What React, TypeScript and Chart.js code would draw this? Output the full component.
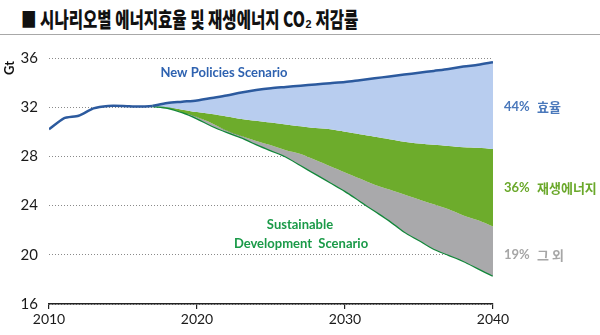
import React, { useEffect, useRef } from "react";
import { Chart, registerables } from "chart.js";

Chart.register(...registerables);

const histYears = [2010, 2011, 2012, 2013, 2014, 2015, 2016, 2017];
const histValues = [30.2, 31.1, 31.3, 31.9, 32.1, 32.1, 32.05, 32.1];

const projYears = [
  2017, 2018, 2019, 2020, 2021, 2022, 2023, 2024, 2025, 2026, 2027, 2028,
  2029, 2030, 2031, 2032, 2033, 2034, 2035, 2036, 2037, 2038, 2039, 2040,
];
const npsValues = [
  32.1, 32.35, 32.45, 32.55, 32.75, 32.95, 33.2, 33.4, 33.55, 33.65, 33.75, 33.85,
  33.95, 34.05, 34.2, 34.35, 34.5, 34.65, 34.8, 34.95, 35.1, 35.3, 35.45, 35.65,
];
const efficiencyFloor = [
  32.1, 32.0, 31.8, 31.6, 31.45, 31.25, 31.05, 30.9, 30.75, 30.6, 30.45, 30.3,
  30.2, 30.0, 29.8, 29.6, 29.4, 29.2, 29.05, 28.95, 28.85, 28.75, 28.7, 28.6,
];
const renewablesFloor = [
  32.1, 31.95, 31.6, 31.2, 30.7, 30.1, 29.65, 29.25, 28.9, 28.5, 28.2, 27.7,
  27.2, 26.7, 26.2, 25.7, 25.3, 24.9, 24.5, 24.1, 23.7, 23.2, 22.8, 22.3,
];
const sdsValues = [
  32.1, 31.95, 31.6, 31.1, 30.5, 30.0, 29.55, 29.0, 28.5, 28.0, 27.3, 26.6,
  25.9, 25.2, 24.4, 23.6, 22.8, 21.9, 21.2, 20.5, 20.0, 19.5, 18.9, 18.3,
];

const xTicks = [2010, 2020, 2030, 2040];
const yTicks = [16, 20, 24, 28, 32, 36];

const titleText = "■ 시나리오별 에너지효율 및 재생에너지 CO₂ 저감률";
const unitLabel = "Gt";
const npsLabel = "New Policies Scenario";
const sdsLabelLines = ["Sustainable", "Development  Scenario"];
const sharePercents = ["44%", "36%", "19%"];
const shareNames = ["효율", "재생에너지", "그 외"];

const BLUE_LINE = "#2c5a9e";
const LIGHT_BLUE = "#b8cdef";
const GREEN_FILL = "#6dac2c";
const GRAY_FILL = "#a9a9ab";
const SDS_LINE = "#12873a";

const toPoints = (xs: number[], ys: number[]) => xs.map((x, i) => ({ x, y: ys[i] }));

const labelsPlugin = {
  id: "labels",
  afterDraw(chart: any) {
    const ctx = chart.ctx as CanvasRenderingContext2D;
    ctx.save();
    ctx.textBaseline = "middle";

    // unit label
    ctx.save();
    ctx.translate(10, 68);
    ctx.rotate(-Math.PI / 2);
    ctx.textAlign = "center";
    ctx.fillStyle = "#111";
    ctx.font = "bold 13px Lato, 'Open Sans', sans-serif";
    ctx.fillText(unitLabel, 0, 0);
    ctx.restore();

    // scenario labels
    ctx.textAlign = "center";
    ctx.font = "bold 13px Lato, 'Open Sans', sans-serif";
    ctx.fillStyle = "#2e62b0";
    ctx.fillText(npsLabel, 224, 73);
    ctx.fillStyle = "#1a9a48";
    ctx.fillText(sdsLabelLines[0], 300, 225);
    ctx.fillText(sdsLabelLines[1], 301, 244);

    // share labels
    const colors = ["#4a78bb", "#6aa82a", "#a6a6a6"];
    const ys = [107, 188, 255];
    ctx.textAlign = "left";
    for (let i = 0; i < 3; i++) {
      ctx.fillStyle = colors[i];
      ctx.font = "bold 13px Lato, 'Open Sans', sans-serif";
      ctx.fillText(sharePercents[i], 504, ys[i]);
      ctx.font = "bold 13px 'Noto Sans CJK KR', sans-serif";
      ctx.fillText(shareNames[i], 537, ys[i]);
    }
    ctx.restore();
  },
};

export default function App() {
  const canvasRef = useRef<HTMLCanvasElement | null>(null);

  useEffect(() => {
    const canvas = canvasRef.current;
    if (!canvas) return;
    const chart = new Chart(canvas, {
      type: "line",
      data: {
        datasets: [
          {
            label: "New Policies",
            data: toPoints(projYears, npsValues),
            borderColor: BLUE_LINE,
            borderWidth: 2.5,
            backgroundColor: LIGHT_BLUE,
            fill: "+1",
            pointRadius: 0,
            tension: 0.3,
          },
          {
            label: "Efficiency",
            data: toPoints(projYears, efficiencyFloor),
            borderColor: "rgba(0,0,0,0)",
            borderWidth: 0,
            backgroundColor: GREEN_FILL,
            fill: "+1",
            pointRadius: 0,
            tension: 0.3,
          },
          {
            label: "Renewables",
            data: toPoints(projYears, renewablesFloor),
            borderColor: "rgba(0,0,0,0)",
            borderWidth: 0,
            backgroundColor: GRAY_FILL,
            fill: "+1",
            pointRadius: 0,
            tension: 0.3,
          },
          {
            label: "Sustainable Development",
            data: toPoints(projYears, sdsValues),
            borderColor: SDS_LINE,
            borderWidth: 2.5,
            fill: false,
            pointRadius: 0,
            tension: 0.3,
          },
          {
            label: "History",
            data: toPoints(histYears, histValues),
            borderColor: BLUE_LINE,
            borderWidth: 2.5,
            fill: false,
            pointRadius: 0,
            tension: 0.2,
          },
        ],
      },
      options: {
        animation: false,
        responsive: false,
        maintainAspectRatio: false,
        layout: { padding: { left: 0, top: 58, right: 107, bottom: 0 } },
        plugins: {
          legend: { display: false },
          tooltip: { enabled: false },
        },
        scales: {
          x: {
            type: "linear",
            min: 2010,
            max: 2040,
            afterBuildTicks: (s: any) => {
              s.ticks = xTicks.map((v) => ({ value: v }));
            },
            afterFit: (s: any) => {
              s.height = 31;
            },
            ticks: {
              callback: (v: any) => String(v),
              color: "#1a1a1a",
              font: { family: "Lato, 'Open Sans', sans-serif", size: 14 },
              padding: 2,
              maxRotation: 0,
              autoSkip: false,
            },
            grid: {
              drawOnChartArea: false,
              drawTicks: true,
              tickLength: 5,
              color: "#222",
              lineWidth: 1.2,
            },
            border: { display: true, color: "#222", width: 1.5 },
          },
          y: {
            min: 16,
            max: 36,
            afterBuildTicks: (s: any) => {
              s.ticks = yTicks.map((v) => ({ value: v }));
            },
            afterFit: (s: any) => {
              s.width = 49;
            },
            ticks: {
              color: "#1a1a1a",
              font: { family: "Lato, 'Open Sans', sans-serif", size: 15 },
              padding: 11,
            },
            grid: { color: "#8a8a8a", lineWidth: 1, drawTicks: false },
            border: { display: false, dash: [1, 2] },
          },
        },
      },
      plugins: [labelsPlugin],
    });
    return () => chart.destroy();
  }, []);

  return (
    <div
      style={{
        position: "fixed",
        left: 0,
        top: 0,
        width: 600,
        height: 335,
        background: "#fff",
        overflow: "hidden",
      }}
    >
      <div
        style={{
          position: "absolute",
          left: 21,
          top: 4,
          whiteSpace: "nowrap",
          fontFamily: "'Noto Sans CJK KR', sans-serif",
          fontWeight: 900,
          fontSize: 21,
          lineHeight: "28px",
          color: "#111",
          transform: "scaleX(0.74)",
          transformOrigin: "left center",
        }}
      >
        {titleText}
      </div>
      <div
        style={{
          position: "absolute",
          left: 0,
          top: 34,
          width: 600,
          height: 1,
          background: "#a8a8a8",
        }}
      />
      <canvas
        ref={canvasRef}
        width={600}
        height={335}
        style={{ position: "absolute", left: 0, top: 0, width: 600, height: 335 }}
      />
    </div>
  );
}
